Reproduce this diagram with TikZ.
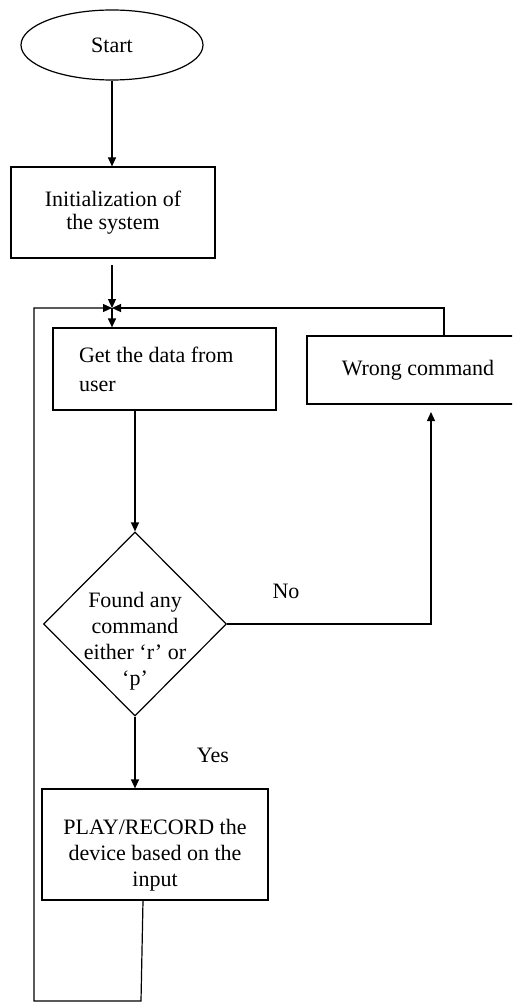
\documentclass[tikz,border=0pt]{standalone}
\usepackage{fontspec}
\setmainfont{Liberation Serif}
\usetikzlibrary{shapes.geometric,arrows.meta}
\begin{document}
\begin{tikzpicture}[
		x=1pt, y=-1pt,
		% ena pisava za vse besedilo
		txt/.style={font=\fontsize{22}{26}\selectfont},
		box/.style={txt, draw, line width=1.2pt, align=center, inner sep=0pt},
		decision/.style={draw, diamond, line width=1.2pt, minimum width=183pt, minimum height=184pt, inner sep=0pt},
		arrow/.style={line width=1.2pt, -{Triangle[width=8pt,length=9pt]}},
	]
	\useasboundingbox (0,0) rectangle (512,1003);
	\clip (0,0) rectangle (512,1003);
	\node[txt, draw, ellipse, line width=1.2pt, minimum width=182pt, minimum height=70pt, inner sep=0pt] (start) at (112,45) {Start};
	\node[box, minimum width=204pt, minimum height=91pt, font=\fontsize{22}{23}\selectfont] (init) at (113,212.5) {Initialization of\\the system};
	\node[box, align=flush left, text width=171pt, inner xsep=26pt, minimum height=82pt, font=\fontsize{22}{29}\selectfont] (getdata) at (164.5,369) {Get the data from\\user};
	\node[box, minimum width=222pt, minimum height=68pt] (wrong) at (418,370) {Wrong command};
	\node[decision] (found) at (135,624) {};
	\node[txt, align=center] (foundtxt) at (135,641) {Found any\\command\\either ‘r’ or\\‘p’};
	% besedilo malo nizje
	\node[box, minimum width=226pt, minimum height=111pt] (play) at (155,844.5) {\rule{0pt}{37pt}PLAY/RECORD the\\device based on the\\input};
	\node[txt] (nolbl) at (286,591) {No};
	\node[txt] (yeslbl) at (213,755) {Yes};

	% tocke za povezave
	\coordinate (initout) at (112,265);
	\coordinate (join) at (112,308);
	\coordinate (nohead) at (431,412);
	\coordinate (loopbr) at (141,1001);
	\coordinate (loopbl) at (34,1001);

	\draw[arrow] (start.south) -- (start.south |- init.north);
	\draw[arrow] (initout) -- (join);
	\draw[arrow] (join) -- (join |- getdata.north);
	\draw[arrow] (found.north |- getdata.south) -- (found.north);
	\draw[arrow] (found.east) -| (nohead);
	\draw[arrow] ([xshift=26pt]wrong.north) |- (join);
	\draw[arrow] (found.south) -- (found.south |- play.north);
	\draw[arrow] ([xshift=-12pt]play.south) -- (loopbr) -- (loopbl) |- (join);
\end{tikzpicture}
\end{document}
